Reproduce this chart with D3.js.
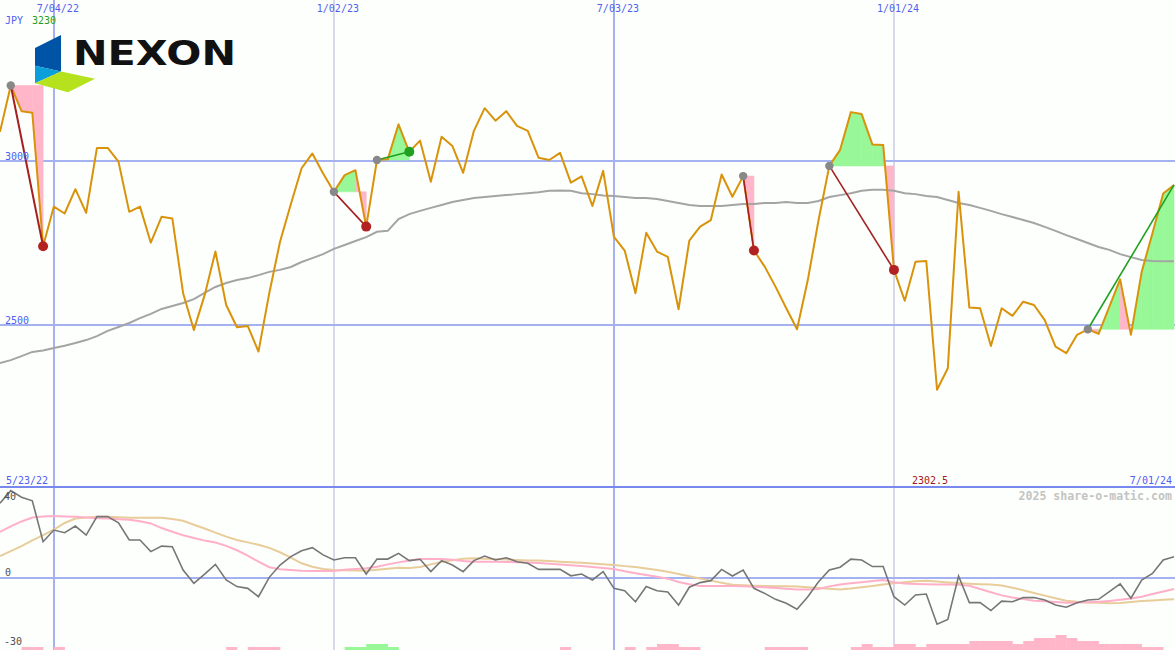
<!DOCTYPE html>
<html><head><meta charset="utf-8">
<script src="https://cdn.jsdelivr.net/npm/d3@7/dist/d3.min.js"></script>
<style>body{margin:0;background:#fdfffd}svg{display:block}</style>
</head><body><svg id="c" width="1175" height="650"></svg>
<script>
// ---- data ----
const startDate = new Date(2022, 4, 30);
const endDate = new Date(2024, 6, 1);
const price = [
3089,3230,3152,3147,2740,2861,2840,2914,2842,3040,
3040,2998,2845,2861,2751,2830,2825,2597,2485,2591,
2724,2561,2493,2497,2419,2597,2754,2868,2978,3023,
2962,2906,2957,2972,2800,3003,3005,3112,3028,3062,
2937,3074,3046,2964,3092,3161,3123,3152,3107,3092,
3010,3003,3025,2934,2953,2863,2970,2769,2727,2597,
2781,2724,2708,2548,2757,2800,2820,2959,2891,2954,
2727,2678,2617,2551,2487,2637,2820,2985,3034,3149,
3143,3050,3049,2668,2574,2693,2695,2302.5,2368,2906,
2553,2551,2436,2551,2528,2571,2561,2515,2434,2414,
2470,2487,2473,2556,2639,2470,2662,2780,2901,2927];
const movingAvg = [
2384,2393,2405,2418,2422,2430,2437,2445,2454,2466,
2482,2494,2506,2521,2534,2549,2558,2567,2579,2598,
2616,2628,2637,2643,2652,2662,2668,2677,2692,2704,
2716,2732,2744,2756,2768,2784,2787,2823,2838,2848,
2857,2866,2875,2881,2887,2890,2893,2896,2899,2902,
2905,2909,2910,2909,2902,2899,2895,2893,2890,2887,
2887,2884,2878,2872,2866,2863,2863,2863,2866,2869,
2869,2872,2872,2875,2872,2872,2878,2890,2896,2902,
2909,2912,2912,2909,2902,2899,2893,2890,2881,2872,
2866,2857,2848,2838,2829,2820,2811,2799,2787,2774,
2762,2750,2738,2729,2716,2707,2698,2695,2694,2694];
const oscMain = [
34,39.7,36.7,35.1,16.5,21.8,20.6,23.6,19.5,27.9,
27.9,25.1,17.3,17.3,12,14.5,14.2,3.6,-2.4,1.8,
6.2,-0.9,-3.9,-4.7,-8.5,0.3,5.9,9.7,12.4,13.8,
10.5,8.2,9.2,9.2,1.8,8.6,8.6,11.2,7.9,8.5,
2.9,7.9,5.9,2.9,7.9,10,8.2,9.2,7.4,6.7,
3.9,3.9,3.9,1,1.8,-0.9,2.9,-4.7,-5.8,-10.8,
-3.9,-5.8,-6.4,-12.3,-4.2,-2.1,-1.2,3.9,0.9,3.6,
-4.7,-7,-9.7,-11.5,-14.2,-8.5,-1.7,3.6,4.9,8.6,
8.2,5.2,5.2,-8.5,-12.3,-7.7,-7.3,-21,-18.8,0.9,
-11.2,-11.2,-14.8,-10.5,-10.8,-8.9,-8.9,-10,-12.3,-13.3,
-11.2,-10,-9.7,-6.2,-2.7,-9.2,-0.9,2.1,8.2,9.7];
const oscPink = [
21,23.5,25.7,27.5,28,28.2,28,27.8,27.5,27.2,
27,26.7,26.5,25.8,24.8,22.7,21,19.4,18.2,17,
16.1,14.6,12.6,10.2,7.4,4.9,4,3.6,3.3,3.2,
3.2,3.2,3.7,4.1,4.4,5.1,6.2,7.1,8,8.6,
8.6,8.6,8.3,7.7,7.4,7.4,7.4,7.3,7.2,7.1,
6.8,6.5,6.1,5.8,5.4,5,4.6,4.1,3.1,2.2,
1.4,0.6,-0.3,-1.8,-2.8,-3.6,-3.6,-3.6,-3.6,-3.8,
-4,-4.2,-4.5,-4.9,-5.2,-5.2,-5,-3.8,-3,-2.4,
-1.9,-1.4,-0.9,-1.9,-2.5,-2.7,-2.8,-2.9,-3,-3.1,
-3.5,-5,-6.5,-7.9,-8.9,-9.6,-10.3,-10.6,-10.9,-11.2,
-11.1,-11,-10.8,-10.4,-9.9,-9.3,-8.5,-7.3,-6.1,-5];
const oscTan = [
10,12.2,14.5,17.1,19.5,22,25,27,27.5,27.8,
27.8,27.6,27.4,27.4,27.4,27.4,26.8,26,24.2,22.5,
20.6,18.8,17.3,16.2,15.1,13.7,11.7,9.3,6.7,5.1,
4.1,3.6,3.5,3.4,3.3,3.7,4.2,4.7,4.5,5,
6.2,7.3,8.1,8.8,9,8.8,8.6,8.4,8.2,8,
7.9,7.7,7.4,7.2,6.9,6.6,6.3,5.9,5.4,5,
4.3,3.6,2.8,1.8,0.8,-0.2,-1.2,-2.2,-3.1,-3.3,
-3.5,-3.6,-3.7,-3.8,-3.9,-4.2,-4.5,-4.9,-5.2,-4.8,
-4.2,-3.6,-3,-2.4,-1.9,-1.5,-1.2,-1.6,-2,-2.3,
-2.6,-2.8,-3,-3.4,-4.4,-5.6,-6.8,-8,-9.2,-10.3,
-10.8,-11.1,-11.3,-11.5,-11.4,-10.9,-10.5,-10.2,-9.9,-9.7];
const bars = [
0,0,-1,-1,0,-1,0,0,0,0,
0,0,0,0,0,0,0,0,0,0,
0,-1,0,-1,-1,-1,0,0,0,0,
0,0,1,1,2,2,1,0,0,0,
0,0,0,0,0,0,0,0,0,0,
0,0,-1,0,0,0,0,0,-1,0,
-1,-2,-2,-1,-1,0,0,0,0,0,
0,-1,-1,-1,-1,0,0,0,0,-1,
-2,-1,-1,-2,-2,-1,-2,-2,-2,-2,
-3,-3,-3,-3,-2,-3,-4,-4,-5,-4,
-3,-3,-2,-2,-2,-2,-1,-1,0,0];
const signalStart = [1, 31, 35, 69, 77, 101];
const signalEnd   = [4, 34, 38, 70, 83, 109];
const signalOpen  = [false, false, false, false, false, true];
const priceTicks = [3000, 2500];
const oscTickLabels = ["40", "0", "-30"];
const oscTickValues = [40, 0, -30];
const gridDates = [new Date(2022,6,4), new Date(2023,0,2), new Date(2023,6,3), new Date(2024,0,1)];
const gridLabels = ["7/04/22", "1/02/23", "7/03/23", "1/01/24"];
const gridThick = [true, false, true, false];
const labelFirst = "5/23/22", labelLast = "7/01/24";
const currency = "JPY", maxLabel = "3230", minLabel = "2302.5";

// ---- scales ----
const dates = d3.timeMonday.range(startDate, d3.timeDay.offset(endDate, 1));
const x = d3.scaleTime().domain([startDate, endDate]).range([0, 1174]);
const y = d3.scaleLinear().domain([2500, 3000]).range([325, 161]);
const yo = d3.scaleLinear().domain([0, 40]).range([578, 490]);
const yb = d3.scaleLinear().domain([0, 5]).range([650, 635]);
const X = i => x(dates[i]);

const svg = d3.select("#c");
const mono = "DejaVu Sans Mono, monospace";
svg.append("rect").attr("width",1175).attr("height",650).attr("fill","#fdfffd");

// gridlines
const g = svg.append("g");
g.selectAll("line.h").data(priceTicks).join("line")
  .attr("x1",0).attr("x2",1175).attr("y1",d=>y(d)).attr("y2",d=>y(d))
  .attr("stroke","#a4b2f2").attr("stroke-width",2);
g.append("line").attr("x1",0).attr("x2",1175).attr("y1",yo(0)).attr("y2",yo(0))
  .attr("stroke","#a4b2f2").attr("stroke-width",2);
g.selectAll("line.v").data(gridDates).join("line")
  .attr("x1",d=>Math.round(x(d))).attr("x2",d=>Math.round(x(d))).attr("y1",0).attr("y2",650)
  .attr("stroke",(d,i)=>gridThick[i]?"#a4b2f2":"#b4b4d4").attr("stroke-width",(d,i)=>gridThick[i]?2:1);
g.append("line").attr("x1",0).attr("x2",1175).attr("y1",487).attr("y2",487)
  .attr("stroke","#7888ee").attr("stroke-width",2);

// bottom bars
svg.append("g").selectAll("rect").data(bars.map((v,i)=>({v,i})).filter(d=>d.v!==0 && d.i<109)).join("rect")
  .attr("x",d=>X(d.i)).attr("width",d=>X(d.i+1)-X(d.i)+0.3)
  .attr("y",d=>yb(Math.abs(d.v))).attr("height",d=>yb(0)-yb(Math.abs(d.v)))
  .attr("fill",d=>d.v>0?"#98f898":"#ffb6c8");

// signal fills
const polys = [];
signalStart.forEach((s,k)=>{
  const L = price[s];
  for(let i=s;i<signalEnd[k];i++){
    polys.push({pts:[[X(i),y(L)],[X(i),y(price[i])],[X(i+1),y(price[i+1])],[X(i+1),y(L)]],
      up: price[i+1] >= L});
  }
});
svg.append("g").selectAll("path").data(polys).join("path")
  .attr("d",d=>"M"+d.pts.map(p=>p.join(",")).join("L")+"Z")
  .attr("fill",d=>d.up?"#98f898":"#ffb6c8")
  .attr("stroke",d=>d.up?"#98f898":"#ffb6c8").attr("stroke-width",0.6);

// lines
const line = d3.line().x((d,i)=>X(i));
svg.append("path").attr("d", line.y(d=>y(d))(movingAvg))
  .attr("fill","none").attr("stroke","#a4a4a4").attr("stroke-width",2);
svg.append("path").attr("d", line.y(d=>y(d))(price))
  .attr("fill","none").attr("stroke","#d9930a").attr("stroke-width",2).attr("stroke-linejoin","round");

// oscillator lines
const lo = d3.line().x((d,i)=>X(i)).y(d=>yo(d));
svg.append("path").attr("d", lo(oscTan)).attr("fill","none").attr("stroke","#e8cc9a").attr("stroke-width",2);
svg.append("path").attr("d", lo(oscPink)).attr("fill","none").attr("stroke","#ffb0c8").attr("stroke-width",2);
svg.append("path").attr("d", lo(oscMain)).attr("fill","none").attr("stroke","#767676").attr("stroke-width",1.6);

// signal lines & dots
signalStart.forEach((s,k)=>{
  const e = signalEnd[k], up = price[e] > price[s];
  svg.append("line").attr("x1",X(s)).attr("y1",y(price[s])).attr("x2",X(e)).attr("y2",y(price[e]))
    .attr("stroke", up?"#22a022":"#a52020").attr("stroke-width", k===0?2:1.6);
});
signalStart.forEach((s,k)=>{
  const e = signalEnd[k], up = price[e] > price[s];
  svg.append("circle").attr("cx",X(s)).attr("cy",y(price[s])).attr("r",4.2).attr("fill","#888888");
  if(!signalOpen[k]) svg.append("circle").attr("cx",X(e)).attr("cy",y(price[e])).attr("r",5)
    .attr("fill", up?"#22a022":"#b22222");
});

// text labels
const T = (t,xx,yy,fill,anchor,size,weight)=>svg.append("text").text(t).attr("x",xx).attr("y",yy)
  .attr("fill",fill).attr("font-family",mono).attr("font-size",size||10).attr("text-anchor",anchor||"start")
  .attr("font-weight",weight||"normal");
gridDates.forEach((d,i)=>T(gridLabels[i], x(d)+4, 12, "#5060ee", "middle"));
T(currency, 5, 24, "#5060ee");
T(maxLabel, 32, 24, "#22a022");
priceTicks.forEach(v=>T(String(v), 5, y(v)-1, "#5060ee"));
T(labelFirst, 6, 484, "#5060ee");
T(minLabel, 930, 484, "#a01818", "middle");
T(labelLast, 1172, 484, "#5060ee", "end");
T("2025 share-o-matic.com", 1172, 500, "#c4c4c4", "end", 11.6, "bold");
T(oscTickLabels[0], 4, 500, "#505050");
T(oscTickLabels[1], 5, 576, "#505050");
T(oscTickLabels[2], 4, 645, "#505050");

// logo
const logo = svg.append("g");
logo.append("path").attr("d","M35,48L61,35L61,71.5L35,65.7Z").attr("fill","#0054a6");
logo.append("path").attr("d","M35,65.7L61,71.5L35,83.3Z").attr("fill","#0a9edb");
logo.append("path").attr("d","M35,83.3L61,71.5L95,78.8L68,92.3Z").attr("fill","#b5e21c");
logo.append("text").text("NEXON").attr("x",73).attr("y",65).attr("font-family","DejaVu Sans, sans-serif")
  .attr("font-weight","bold").attr("font-size",34).attr("textLength",163).attr("lengthAdjust","spacingAndGlyphs")
  .attr("fill","#111");
</script></body></html>
